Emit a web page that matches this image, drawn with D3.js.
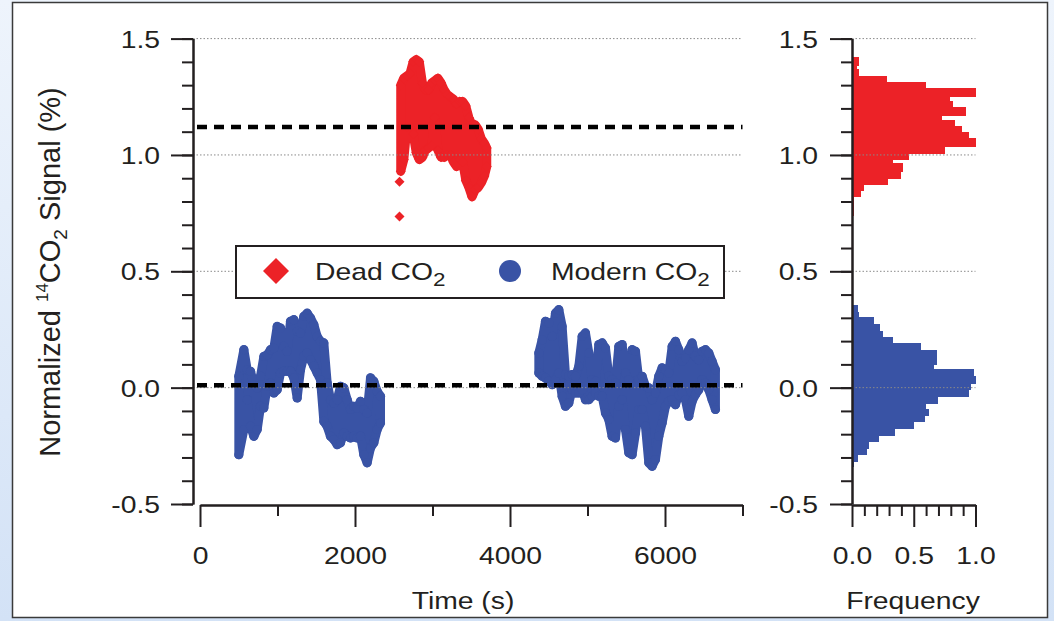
<!DOCTYPE html>
<html>
<head>
<meta charset="utf-8">
<script src="https://cdn.jsdelivr.net/npm/d3@7"></script>
<style>
  body { margin: 0; background: #fff; }
  svg { display: block; font-family: "Liberation Sans", Arial, Helvetica, sans-serif; }
</style>
</head>
<body>
<div class="chart"></div>
<script>
// ---- data ----
// Dead CO2: time (s) with the lowest / highest reading seen around that time
const deadTime = [2590, 2630, 2670, 2710, 2750, 2790, 2830, 2870, 2910, 2950, 2990, 3030, 3070, 3110, 3150,
    3190, 3230, 3270, 3310, 3350, 3390, 3430, 3470, 3510, 3550, 3590, 3630, 3670, 3700]
const deadHigh = [1.30, 1.33, 1.34, 1.35, 1.40, 1.41, 1.40, 1.31, 1.28, 1.28, 1.31, 1.32, 1.33, 1.31, 1.28,
    1.26, 1.25, 1.24, 1.22, 1.23, 1.23, 1.21, 1.16, 1.13, 1.13, 1.11, 1.07, 1.05, 1.03]
const deadLow = [0.93, 0.98, 1.12, 1.12, 1.09, 1.01, 0.98, 0.99, 1.02, 1.03, 1.04, 1.16, 1.02, 0.99, 0.99,
    1.00, 1.00, 0.97, 0.95, 0.98, 0.97, 0.89, 0.86, 0.82, 0.85, 0.86, 0.88, 0.91, 0.95]
// two stray dead points
const deadStrayTime = [2574, 2574]
const deadStrayValue = [0.885, 0.735]

// Modern CO2, first run
const modernTime1 = [501, 566, 609, 652, 695, 738, 781, 824, 867, 910, 953, 996, 1039, 1082, 1125, 1168, 1211,
    1254, 1297, 1340, 1383, 1426, 1469, 1512, 1555, 1598, 1641, 1684, 1727, 1770, 1813, 1856, 1899, 1942, 1985,
    2028, 2071, 2114, 2157, 2200, 2243, 2286, 2329]
const modernHigh1 = [0.049, 0.163, 0.077, 0.070, 0.013, -0.001, 0.049, 0.134, 0.141, 0.163, 0.170, 0.263, 0.256,
    0.177, 0.156, 0.285, 0.292, 0.242, 0.235, 0.306, 0.320, 0.299, 0.270, 0.220, 0.199, 0.192, 0.020, -0.052,
    -0.066, -0.052, 0.006, -0.001, -0.052, -0.094, -0.080, -0.087, -0.059, -0.094, -0.109, 0.042, 0.027, -0.016, -0.037]
const modernLow1 = [-0.288, -0.180, -0.052, -0.166, -0.209, -0.180, -0.080, -0.087, 0.006, 0.020, -0.023, -0.009,
    0.063, 0.070, 0.070, 0.070, 0.042, -0.044, 0.077, 0.134, 0.149, 0.120, 0.092, 0.063, 0.034, -0.145, -0.166,
    -0.209, -0.223, -0.245, -0.237, -0.195, -0.209, -0.216, -0.209, -0.216, -0.209, -0.288, -0.323, -0.259,
    -0.237, -0.180, -0.152]

// Modern CO2, second run
const modernTime2 = [4372, 4415, 4458, 4501, 4544, 4587, 4630, 4673, 4716, 4759, 4802, 4845, 4888, 4931, 4974,
    5017, 5060, 5103, 5146, 5189, 5232, 5275, 5318, 5361, 5404, 5447, 5490, 5533, 5576, 5619, 5662, 5705, 5748,
    5791, 5834, 5877, 5920, 5963, 6006, 6049, 6092, 6135, 6178, 6221, 6264, 6307, 6350, 6393, 6436, 6479, 6522,
    6565, 6608, 6651]
const modernHigh2 = [0.149, 0.206, 0.285, 0.278, 0.220, 0.320, 0.335, 0.263, 0.056, 0.049, 0.056, 0.049, 0.091,
    0.220, 0.235, 0.149, 0.034, 0.027, 0.185, 0.192, 0.170, 0.049, 0.034, 0.020, 0.177, 0.185, 0.063, 0.034,
    0.163, 0.156, 0.034, 0.049, 0.006, -0.001, -0.052, -0.023, 0.049, 0.085, 0.077, 0.063, 0.177, 0.199, 0.163,
    0.113, 0.127, 0.163, 0.192, 0.134, 0.120, 0.156, 0.163, 0.149, 0.113, 0.077]
const modernLow2 = [0.063, 0.049, 0.042, 0.027, 0.013, 0.034, 0.063, -0.037, -0.080, -0.066, -0.009, -0.023,
    -0.023, -0.009, -0.052, -0.052, -0.037, -0.023, -0.037, -0.037, -0.109, -0.137, -0.209, -0.216, -0.080,
    -0.052, -0.180, -0.280, -0.288, -0.195, -0.094, -0.094, -0.166, -0.323, -0.338, -0.309, -0.209, -0.152,
    -0.080, -0.059, -0.052, -0.073, -0.030, -0.023, -0.052, -0.123, -0.059, -0.030, -0.009, 0.034, 0.020,
    -0.009, -0.052, -0.094]

// mean levels (dashed lines)
const deadMean = 1.12
const modernMean = 0.01

// histograms: bin edges (signal) and normalized frequency per bin
const deadHistEdges = [1.422, 1.386, 1.369, 1.340, 1.312, 1.286, 1.250, 1.232, 1.206, 1.169, 1.150, 1.124,
    1.097, 1.072, 1.036, 1.007, 0.979, 0.964, 0.928, 0.900, 0.874, 0.847, 0.821, 0.742]
const deadHistFreq = [0.06, 0.04, 0.06, 0.28, 0.60, 1.00, 0.79, 0.82, 0.92, 0.73, 0.83, 0.89, 0.95, 1.00,
    0.75, 0.46, 0.33, 0.41, 0.40, 0.29, 0.10, 0.07, 0.015]
const modernHistEdges = [0.356, 0.327, 0.302, 0.273, 0.245, 0.216, 0.192, 0.163, 0.134, 0.102, 0.082, 0.049,
    0.020, -0.009, -0.037, -0.066, -0.090, -0.119, -0.147, -0.176, -0.205, -0.230, -0.262, -0.288, -0.316, -0.338]
const modernHistFreq = [0.05, 0.06, 0.18, 0.23, 0.25, 0.33, 0.56, 0.69, 0.69, 0.66, 0.99, 1.00, 0.96, 0.95,
    0.70, 0.60, 0.62, 0.59, 0.50, 0.35, 0.22, 0.14, 0.12, 0.05, 0.015]

// ticks
const signalTicks = [-0.5, 0.0, 0.5, 1.0, 1.5]
const signalMinorTicks = [-0.5, -0.4, -0.3, -0.2, -0.1, 0.0, 0.1, 0.2, 0.3, 0.4, 0.5, 0.6, 0.7, 0.8, 0.9, 1.0,
    1.1, 1.2, 1.3, 1.4, 1.5]
const timeTicks = [0, 2000, 4000, 6000]
const timeMinorTicks = [1000, 3000, 5000, 7000]
const freqTicks = [0.0, 0.5, 1.0]
const freqMinorTicks = [0.1, 0.2, 0.3, 0.4, 0.6, 0.7, 0.8, 0.9]

// ---- drawing ----
const red = '#ec2227'
const blue = '#3953a5'
const ink = '#231f20'
const stretch = 'scale(1.18,1)'

const svg = d3.select('.chart')
    .append('svg')
    .attr('width', 1054)
    .attr('height', 621)

// slide background + white panel
const grad = svg.append('defs').append('linearGradient')
    .attr('id', 'bg').attr('x1', 0).attr('y1', 0).attr('x2', 0).attr('y2', 1)
grad.append('stop').attr('offset', '0%').attr('stop-color', '#eef4fc')
grad.append('stop').attr('offset', '100%').attr('stop-color', '#d3e2f6')
svg.append('rect').attr('width', 1054).attr('height', 621).attr('fill', 'url(#bg)')
svg.append('rect')
    .attr('x', 12.5).attr('y', 2.5)
    .attr('width', 1035).attr('height', 615)
    .attr('fill', 'white')
    .attr('stroke', '#3a3a3a')
    .attr('stroke-width', 1.5)

const x = d3.scaleLinear().domain([0, 7000]).range([200, 742.5])
const y = d3.scaleLinear().domain([-0.5, 1.5]).range([504, 38.6])
const fx = d3.scaleLinear().domain([0, 1]).range([852, 975.5])

// custom square-ish diamond like the original marker
const diamond = {
    draw(ctx, size) {
        const r = Math.sqrt(size / 2)
        ctx.moveTo(0, -r)
        ctx.lineTo(r, 0)
        ctx.lineTo(0, r)
        ctx.lineTo(-r, 0)
        ctx.closePath()
    }
}
const diamondMark = d3.symbol(diamond, 50)
const circleMark = d3.symbol(d3.symbolCircle, Math.PI * 4.6 * 4.6)

// histograms
const drawHist = (edges, freq, color) => {
    svg.append('g')
        .attr('shape-rendering', 'crispEdges')
        .selectAll('rect')
        .data(freq)
        .enter()
        .append('rect')
        .attr('x', fx(0))
        .attr('y', (d, i) => y(edges[i]))
        .attr('width', d => fx(d) - fx(0))
        .attr('height', (d, i) => y(edges[i + 1]) - y(edges[i]) + 0.6)
        .attr('fill', color)
}
drawHist(deadHistEdges, deadHistFreq, red)
drawHist(modernHistEdges, modernHistFreq, blue)

// dense scatter: the band between low and high readings, plus markers on the readings
const drawBand = (times, highs, lows, color, mark) => {
    const rows = times.map((t, i) => ({t: t, hi: highs[i], lo: lows[i]}))
    const area = d3.area()
        .x(d => x(d.t))
        .y0(d => y(d.lo))
        .y1(d => y(d.hi))
    svg.append('path')
        .datum(rows)
        .attr('d', area)
        .attr('fill', color)
        .attr('stroke', color)
        .attr('stroke-width', 9)
        .attr('stroke-linejoin', 'round')
    const pts = rows.flatMap(d => [{t: d.t, v: d.hi}, {t: d.t, v: d.lo}])
    svg.append('g')
        .selectAll('path')
        .data(pts)
        .enter()
        .append('path')
        .attr('transform', d => `translate(${x(d.t)},${y(d.v)})`)
        .attr('d', mark)
        .attr('fill', color)
}
drawBand(modernTime1, modernHigh1, modernLow1, blue, circleMark)
drawBand(modernTime2, modernHigh2, modernLow2, blue, circleMark)
drawBand(deadTime, deadHigh, deadLow, red, diamondMark)

svg.append('g')
    .selectAll('path')
    .data(deadStrayTime)
    .enter()
    .append('path')
    .attr('transform', (d, i) => `translate(${x(d)},${y(deadStrayValue[i])})`)
    .attr('d', diamondMark)
    .attr('fill', red)

// dotted grid on the major values
const gridVals = signalTicks.filter(v => v > -0.5)
const grid = svg.append('g')
    .attr('stroke', '#8a8a8a')
    .attr('stroke-width', 1)
    .attr('stroke-dasharray', '1.5,2')
grid.selectAll('.gm')
    .data(gridVals)
    .enter()
    .append('line')
    .attr('x1', 193).attr('x2', x(7000))
    .attr('y1', d => y(d)).attr('y2', d => y(d))
grid.selectAll('.gh')
    .data(gridVals)
    .enter()
    .append('line')
    .attr('x1', fx(0)).attr('x2', fx(1))
    .attr('y1', d => y(d)).attr('y2', d => y(d))

// mean lines
svg.append('g')
    .selectAll('line')
    .data([deadMean, modernMean])
    .enter()
    .append('line')
    .attr('x1', x(0) - 3).attr('x2', x(7000))
    .attr('y1', d => y(d)).attr('y2', d => y(d))
    .attr('stroke', '#000')
    .attr('stroke-width', 4.5)
    .attr('stroke-dasharray', '10,7')

// axes
const styleAxis = g => {
    g.attr('color', ink).attr('font-size', 24).attr('font-family', null)
    g.selectAll('path, line').attr('stroke-width', 2)
}
const noLabel = () => ''
const fmt = d => d.toFixed(1)

// main y axis
svg.append('g').attr('transform', 'translate(193,0)')
    .call(d3.axisLeft(y).tickValues(signalMinorTicks).tickSize(11).tickSizeOuter(0).tickFormat(noLabel))
    .call(styleAxis)
svg.append('g').attr('transform', 'translate(193,0)')
    .call(d3.axisLeft(y).tickValues(signalTicks).tickSize(22).tickSizeOuter(0).tickFormat(fmt))
    .call(styleAxis)
    .call(g => g.selectAll('text').attr('x', 0).attr('dy', '0.36em')
        .attr('transform', `translate(-33,0) ${stretch}`))

// histogram y axis
svg.append('g').attr('transform', `translate(${fx(0)},0)`)
    .call(d3.axisLeft(y).tickValues(signalMinorTicks).tickSize(11).tickSizeOuter(0).tickFormat(noLabel))
    .call(styleAxis)
svg.append('g').attr('transform', `translate(${fx(0)},0)`)
    .call(d3.axisLeft(y).tickValues(signalTicks).tickSize(22).tickSizeOuter(0).tickFormat(fmt))
    .call(styleAxis)
    .call(g => g.selectAll('text').attr('x', 0).attr('dy', '0.36em')
        .attr('transform', `translate(-34,0) ${stretch}`))

// time axis
svg.append('g').attr('transform', 'translate(0,505)')
    .call(d3.axisBottom(x).tickValues(timeMinorTicks).tickSize(11).tickSizeOuter(0).tickFormat(noLabel))
    .call(styleAxis)
svg.append('g').attr('transform', 'translate(0,505)')
    .call(d3.axisBottom(x).tickValues(timeTicks).tickSize(22).tickSizeOuter(0).tickFormat(d => d))
    .call(styleAxis)
    .call(g => g.selectAll('text').attr('y', 0).attr('dy', '0.36em')
        .attr('transform', `translate(0,50) ${stretch}`))

// frequency axis
svg.append('g').attr('transform', 'translate(0,505)')
    .call(d3.axisBottom(fx).tickValues(freqMinorTicks).tickSize(11).tickSizeOuter(0).tickFormat(noLabel))
    .call(styleAxis)
svg.append('g').attr('transform', 'translate(0,505)')
    .call(d3.axisBottom(fx).tickValues(freqTicks).tickSize(22).tickSizeOuter(0).tickFormat(fmt))
    .call(styleAxis)
    .call(g => g.selectAll('text').attr('y', 0).attr('dy', '0.36em')
        .attr('transform', `translate(0,50) ${stretch}`))

// axis titles
svg.append('text')
    .attr('transform', `translate(463,609) ${stretch}`)
    .attr('text-anchor', 'middle')
    .attr('font-size', 24)
    .attr('fill', ink)
    .text('Time (s)')
svg.append('text')
    .attr('transform', `translate(913,609) ${stretch}`)
    .attr('text-anchor', 'middle')
    .attr('font-size', 24)
    .attr('fill', ink)
    .text('Frequency')

let ylab = svg.append('text')
    .attr('transform', 'translate(60,272) rotate(-90)')
    .attr('text-anchor', 'middle')
    .attr('font-size', 29)
    .attr('fill', ink)
ylab.append('tspan').text('Normalized ')
ylab.append('tspan').attr('font-size', 17).attr('dy', -12).text('14')
ylab.append('tspan').attr('dy', 12).text('CO')
ylab.append('tspan').attr('font-size', 19).attr('dy', 7).text('2')
ylab.append('tspan').attr('dy', -7).text(' Signal (%)')

// legend
const legend = svg.append('g')
legend.append('rect')
    .attr('x', 236).attr('y', 246)
    .attr('width', 488).attr('height', 52)
    .attr('fill', 'white')
    .attr('stroke', ink)
    .attr('stroke-width', 2)
legend.append('path')
    .attr('transform', 'translate(276,271)')
    .attr('d', d3.symbol(diamond, 2 * 13 * 13))
    .attr('fill', red)
legend.append('path')
    .attr('transform', 'translate(510,271)')
    .attr('d', d3.symbol(d3.symbolCircle, Math.PI * 11 * 11))
    .attr('fill', blue)

const legendText = (xPos, label) => {
    let t = legend.append('text')
        .attr('transform', `translate(${xPos},280) ${stretch}`)
        .attr('font-size', 24)
        .attr('fill', ink)
    t.append('tspan').text(label)
    t.append('tspan').attr('font-size', 19).attr('dy', 6).text('2')
}
legendText(315, 'Dead CO')
legendText(551, 'Modern CO')
</script>
</body>
</html>
